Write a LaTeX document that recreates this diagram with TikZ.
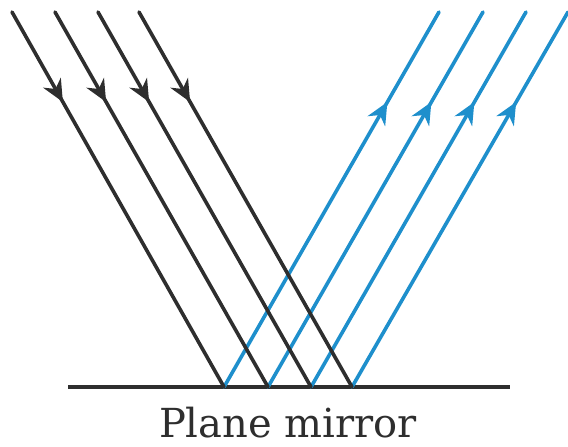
\documentclass[tikz,border=0pt]{standalone}
\usepackage{fontspec}
\setmainfont{DejaVu Serif}
\usetikzlibrary{arrows.meta,decorations.markings}
\definecolor{ink}{HTML}{2E2E2E}
\definecolor{ray}{HTML}{1E8FCC}
\begin{document}
\begin{tikzpicture}[x=1pt,y=-1pt,
  raybase/.style={line width=3.6pt,line cap=round},
  incident/.style={raybase,draw=ink,postaction={decorate},
    decoration={markings,mark=at position 0.24 with {\arrow[ink]{Stealth[length=22pt,width=20pt,inset=7pt]}}}},
  reflected/.style={raybase,draw=ray,postaction={decorate},
    decoration={markings,mark=at position 0.76 with {\arrow[ray]{Stealth[length=22pt,width=20pt,inset=7pt]}}}},
  mirror/.style={line width=4pt,draw=ink},
  label/.style={font=\fontsize{40}{46}\selectfont,text=ink,anchor=base,inner sep=0pt}]
\useasboundingbox (0,0) rectangle (568,447);
% mirror
\coordinate (mL) at (68,387);
\coordinate (mR) at (510,387);
\draw[mirror] (mL) -- (mR);
% incidence points
\foreach \i/\x in {1/224,2/268,3/311,4/352}{
  \coordinate (p\i) at (\x,387);
}
\foreach \i/\x in {1/12,2/55,3/98,4/139}{
  \coordinate (s\i) at (\x,12);
}
\foreach \i/\x in {1/439,2/483,3/526,4/568}{
  \coordinate (e\i) at (\x,12);
}
\foreach \i in {1,2,3,4}{
  \draw[reflected] (p\i) -- (e\i);
}
\foreach \i in {1,2,3,4}{
  \draw[incident] (s\i) -- (p\i);
}
\node[label] (cap) at (288,437) {Plane mirror};
\end{tikzpicture}
\end{document}
